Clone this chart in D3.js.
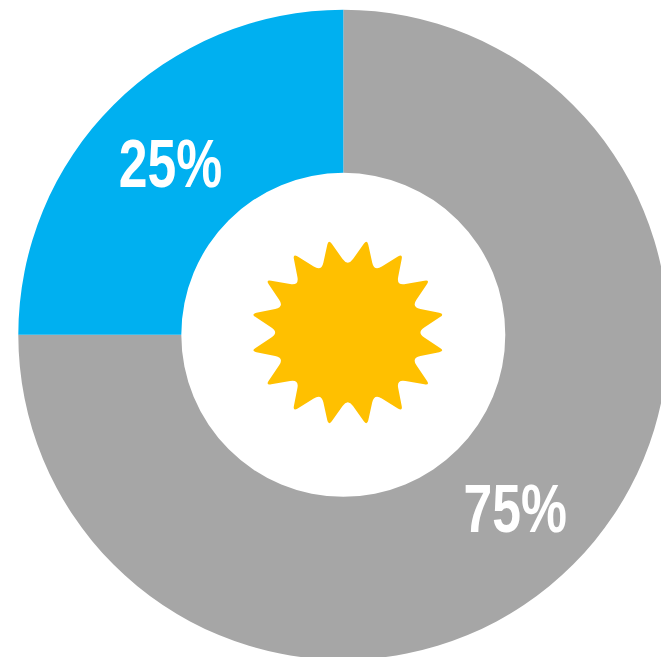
<!DOCTYPE html>
<html>
<head>
<meta charset="utf-8">
<script src="https://cdn.jsdelivr.net/npm/d3@7"></script>
<style>
  html, body { margin: 0; padding: 0; background: #fff; overflow: hidden; }
  svg { display: block; }
</style>
</head>
<body>
<script>
const categories = ["Other", "Share"];
const values = [75, 25];
const labels = ["75%", "25%"];
const colors = ["#A6A6A6", "#00B0F0"];
const sunPoints = 16;

const width = 661, height = 657;
const cx = 343.3, cy = 334.8;
const outerR = 325, innerR = 162;

const svg = d3.select("body").append("svg")
  .attr("width", width).attr("height", height);

const pie = d3.pie().sort(null)(values);
const arc = d3.arc().innerRadius(innerR).outerRadius(outerR);

const ring = svg.append("g").attr("transform", `translate(${cx},${cy})`);
ring.selectAll("path").data(pie).join("path")
  .attr("d", arc)
  .attr("fill", (d, i) => colors[i]);

// Sixteen-point star with softened tips and valleys, very slightly wider than tall
const sunX = 347.8, sunY = 332.5;
const tipR = 97, valleyR = 67.5, tipEase = 0.17, valleyEase = 0.27;
const angle = d3.scaleLinear().domain([0, sunPoints * 2]).range([0, 2 * Math.PI]);
const verts = d3.range(sunPoints * 2).map(i => {
  const a = angle(i) - Math.PI / 2 + Math.PI / sunPoints;
  const r = i % 2 === 0 ? tipR : valleyR;
  return [r * Math.cos(a), r * Math.sin(a)];
});
const lerp = (p, q, t) => [p[0] + (q[0] - p[0]) * t, p[1] + (q[1] - p[1]) * t];
const sun = d3.path();
verts.forEach((v, i) => {
  const prev = verts[(i + verts.length - 1) % verts.length];
  const next = verts[(i + 1) % verts.length];
  const t = i % 2 === 0 ? tipEase : valleyEase;
  const a = lerp(v, prev, t), b = lerp(v, next, t);
  if (i === 0) sun.moveTo(a[0], a[1]); else sun.lineTo(a[0], a[1]);
  sun.quadraticCurveTo(v[0], v[1], b[0], b[1]);
});
sun.closePath();
svg.append("path")
  .attr("transform", `translate(${sunX},${sunY}) scale(1.02,0.98)`)
  .attr("d", sun.toString())
  .attr("fill", "#FFC000");

// Labels use a narrowed bold face
const labelPos = [[515.3, 531.5], [170.5, 187]];
svg.selectAll("text.pct").data(labels).join("text")
  .attr("class", "pct")
  .attr("transform", (d, i) => `translate(${labelPos[i][0]},${labelPos[i][1]}) scale(0.76,1)`)
  .attr("text-anchor", "middle")
  .attr("font-family", "'Liberation Sans', Arial, sans-serif")
  .attr("font-weight", "bold")
  .attr("font-size", 68)
  .attr("fill", "#fff")
  .text(d => d);
</script>
</body>
</html>
